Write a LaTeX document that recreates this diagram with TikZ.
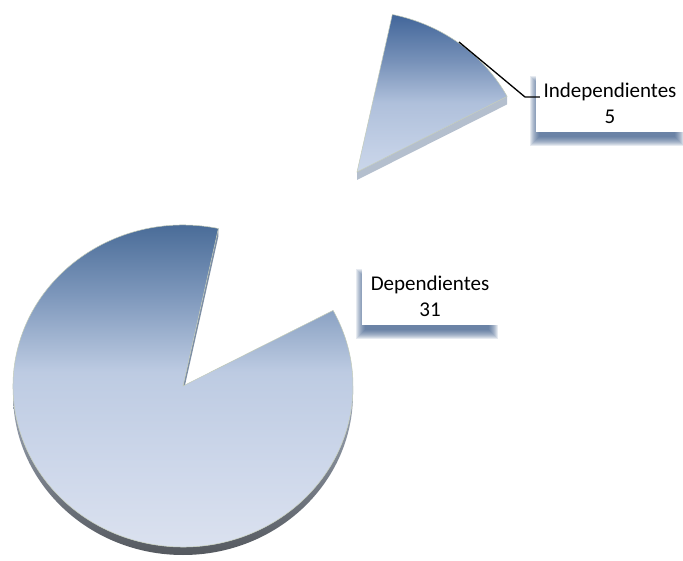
\documentclass[tikz,border=0pt]{standalone}
\usepackage{fontspec}
\setmainfont{Carlito}
\usetikzlibrary{calc,backgrounds}
\definecolor{topblue}{HTML}{3F6391}
\definecolor{bigA}{HTML}{7D97BB}
\definecolor{bigB}{HTML}{BDCBE2}
\definecolor{bigC}{HTML}{CDD7EA}
\definecolor{bigD}{HTML}{DDE3F0}
\definecolor{smtop}{HTML}{42669A}
\definecolor{smA}{HTML}{7892B9}
\definecolor{smB}{HTML}{AFC0DB}
\definecolor{smC}{HTML}{C3D0E6}
\definecolor{smD}{HTML}{CAD6EA}
\definecolor{sidelight}{HTML}{A2ACBC}
\definecolor{sidedark}{HTML}{55595F}
\definecolor{slivercol}{HTML}{7E8FA5}
\definecolor{smallside}{HTML}{B4BFCE}
\definecolor{edgecol}{HTML}{C3CBB8}
\definecolor{shadowblue}{HTML}{3A5A88}
\pgfdeclareverticalshading{bigpie}{100bp}{color(0bp)=(bigD); color(25bp)=(bigD); color(39bp)=(bigC); color(52bp)=(bigB); color(63bp)=(bigA); color(75bp)=(topblue); color(100bp)=(topblue)}
\pgfdeclareverticalshading{smallpie}{100bp}{color(0bp)=(smD); color(25bp)=(smD); color(32bp)=(smC); color(47bp)=(smB); color(60bp)=(smA); color(75bp)=(smtop); color(100bp)=(smtop)}
\begin{document}
\begin{tikzpicture}[x=1pt,y=1pt,
  lbl/.style={fill=white, align=center, inner sep=0pt, font=\fontsize{21}{26}\selectfont},
  leader/.style={draw=black, line width=1.3pt},
  pieedge/.style={draw=edgecol, line width=0.5pt}]
\useasboundingbox (0,0) rectangle (683,560);
\coordinate (C) at (183,174);
\coordinate (S) at (357,388);
\coordinate (C78) at ([shift={(C)}]78:170 and 161);
\coordinate (C28) at ([shift={(C)}]28:170 and 161);
\coordinate (S78) at ([shift={(S)}]78:170 and 161);
\coordinate (S28) at ([shift={(S)}]28:170 and 161);
% big slice: side
\shade[top color=sidelight, bottom color=sidedark]
  ([shift={(C)}]180:170 and 161) arc[start angle=180,end angle=360,x radius=170,y radius=161]
  -- ++(0,-8) arc[start angle=360,end angle=180,x radius=170,y radius=161] -- cycle;
\fill[slivercol] (C) -- (C78) -- ($(C78)+(0,-8)$) -- ($(C)+(0,-8)$) -- cycle;
% big slice: top
\shade[shading=bigpie, pieedge]
  (C) -- (C78) arc[start angle=78,end angle=388,x radius=170,y radius=161] -- cycle;
% small slice: side
\fill[smallside] (S) -- (S28) -- ($(S28)+(0,-8)$) -- ($(S)+(0,-8)$) -- cycle;
% small slice: top
\shade[shading=smallpie, pieedge]
  (S) -- (S28) arc[start angle=28,end angle=78,x radius=170,y radius=161] -- cycle;
% labels
\node[lbl, minimum width=136pt, minimum height=57pt] (dep) at (430,263.5) {Dependientes\\31};
\node[lbl, minimum width=148pt, minimum height=57pt] (ind) at (610,456.5) {Independientes\\5};
\begin{scope}[on background layer]
\foreach \n in {dep,ind}{
  \foreach \e in {4.5,3.5,...,-4.5}{
    \fill[shadowblue,opacity=0.13] ($(\n.south west)+(-1.5-\e,-9.5-\e)$) rectangle ($(\n.north east)+(-4.5+\e,-6+\e)$);
  }
}
\end{scope}
% leader line
\coordinate (lp) at (459,518);
\coordinate (lk) at (525,463);
\draw[leader] (lp) -- (lk) -- ($(lk -| ind.west)+(4,0)$);
\end{tikzpicture}
\end{document}
